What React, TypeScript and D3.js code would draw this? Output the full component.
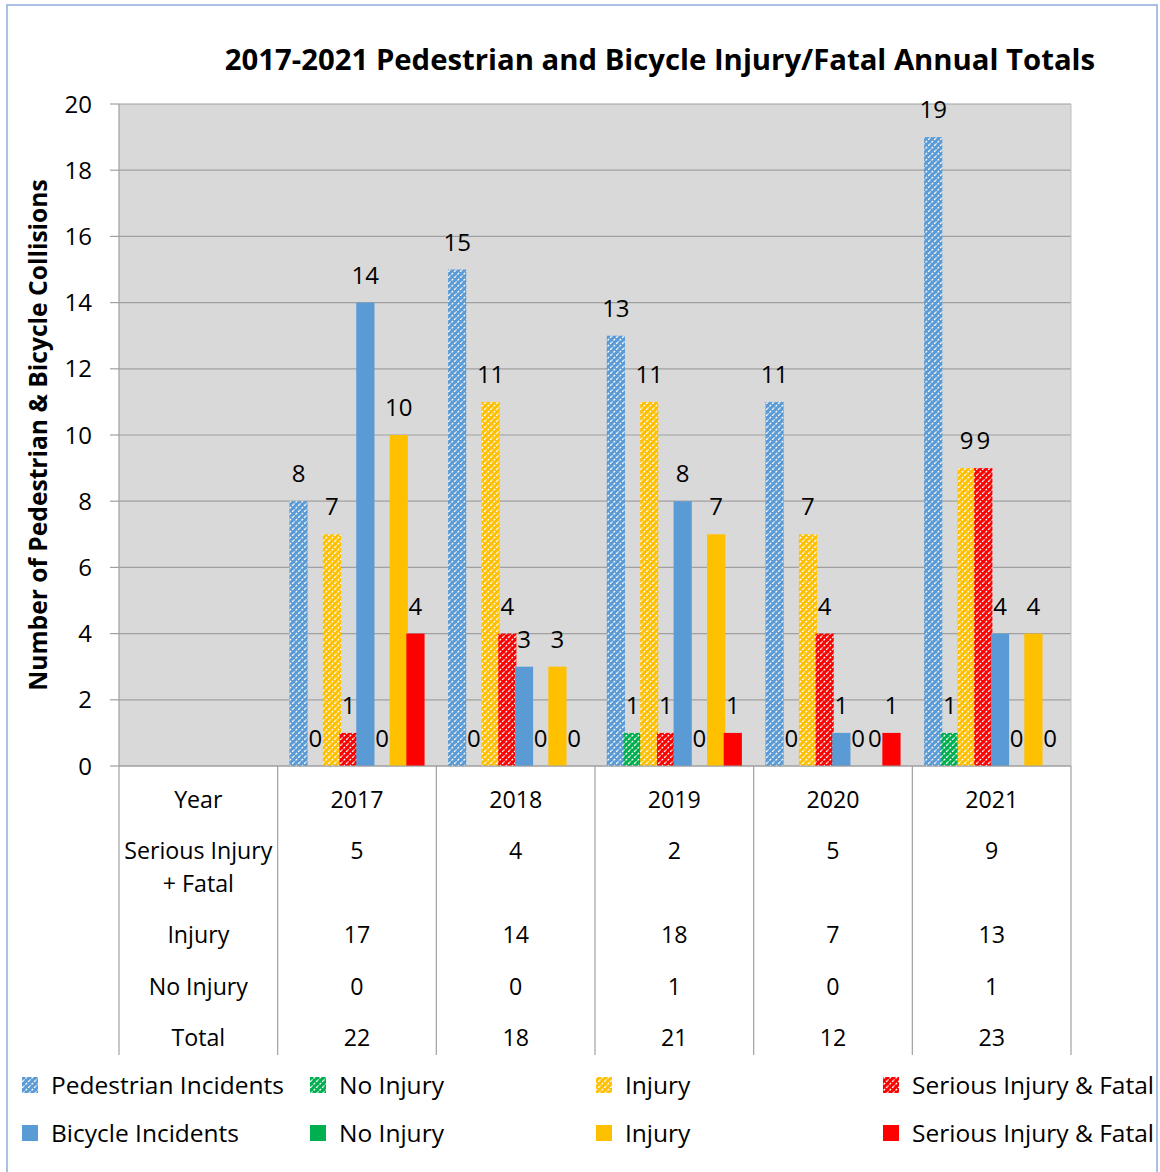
import React from "react";
import * as d3 from "d3";

const years = ["2017", "2018", "2019", "2020", "2021"];
const categories = ["", ...years];
const seriesNames = [
  "Pedestrian Incidents",
  "No Injury",
  "Injury",
  "Serious Injury & Fatal",
  "Bicycle Incidents",
  "No Injury",
  "Injury",
  "Serious Injury & Fatal",
];
const seriesColors = ["#5b9bd5", "#00b050", "#ffc000", "#ff0000", "#5b9bd5", "#00b050", "#ffc000", "#ff0000"];
const seriesHatched = [true, true, true, true, false, false, false, false];

const pedIncidents = [8, 15, 13, 11, 19];
const pedNoInjury = [0, 0, 1, 0, 1];
const pedInjury = [7, 11, 11, 7, 9];
const pedSerious = [1, 4, 1, 4, 9];
const bikeIncidents = [14, 3, 8, 1, 4];
const bikeNoInjury = [0, 0, 0, 0, 0];
const bikeInjury = [10, 3, 7, 0, 4];
const bikeSerious = [4, 0, 1, 1, 0];
const seriesValues = [pedIncidents, pedNoInjury, pedInjury, pedSerious, bikeIncidents, bikeNoInjury, bikeInjury, bikeSerious];

const tableRowLabels = [["Year"], ["Serious Injury", "+ Fatal"], ["Injury"], ["No Injury"], ["Total"]];
const tableSerious = ["5", "4", "2", "5", "9"];
const tableInjury = ["17", "14", "18", "7", "13"];
const tableNoInjury = ["0", "0", "1", "0", "1"];
const tableTotal = ["22", "18", "21", "12", "23"];
const tableRows = [years, tableSerious, tableInjury, tableNoInjury, tableTotal];

const yTicks = [0, 2, 4, 6, 8, 10, 12, 14, 16, 18, 20];

const FONT = "'Open Sans', Lato, sans-serif";

export default function App() {
  const W = 1160, H = 1172;
  const left = 119, right = 1071, top = 104, bottom = 766;
  const x = d3.scaleBand<string>().domain(categories).range([left, right]).paddingInner(0).paddingOuter(0);
  const y = d3.scaleLinear().domain([0, 20]).range([bottom, top]);
  const bw = x.bandwidth();
  const step = bw / 9.5;
  const barW = step + 1.5;
  const rowY = [800, 851, 935, 987, 1038];

  const patId = (i: number) => `hatch${i}`;

  return (
    <svg width={W} height={H} style={{ display: "block", position: "absolute", left: 0, top: 0 }} fontFamily={FONT}>
      <defs>
        {seriesColors.map((c, i) => (
          <pattern key={i} id={patId(i)} width={6} height={6} patternUnits="userSpaceOnUse">
            <rect width={6} height={6} fill={c} />
            <path d="M-1,7 L7,-1" stroke="#fff" strokeWidth={1.3} strokeDasharray="2.2,1.4" />
            <path d="M-4,4 L4,-4 M2,10 L10,2" stroke="#fff" strokeWidth={1.3} strokeDasharray="2.2,1.4" />
          </pattern>
        ))}
      </defs>
      <rect x={0} y={0} width={W} height={H} fill="#fff" />
      <rect x={7} y={5} width={1150} height={1175} fill="none" stroke="#8eaadb" strokeWidth={1.5} />

      <text x={660} y={70} textAnchor="middle" fontSize={29.3} fontWeight="bold" fill="#000">
        2017-2021 Pedestrian and Bicycle Injury/Fatal Annual Totals
      </text>

      <rect x={left} y={top} width={right - left} height={bottom - top} fill="#d9d9d9" />
      {yTicks.map((t) => (
        <g key={t}>
          <line x1={left} x2={right} y1={y(t)} y2={y(t)} stroke="#a0a0a0" strokeWidth={1.2} />
          <line x1={110} x2={left} y1={y(t)} y2={y(t)} stroke="#a0a0a0" strokeWidth={1.2} />
          <text x={92} y={y(t) + 8.5} textAnchor="end" fontSize={24} fill="#000">{t}</text>
        </g>
      ))}
      <line x1={left} x2={left} y1={top} y2={bottom} stroke="#a0a0a0" strokeWidth={1.2} />
      <line x1={right} x2={right} y1={top} y2={bottom} stroke="#bfbfbf" strokeWidth={1} />

      <text transform={`translate(47,435) rotate(-90)`} textAnchor="middle" fontSize={24.6} fontWeight="bold" fill="#000">
        Number of Pedestrian &amp; Bicycle Collisions
      </text>

      {years.map((yr, ci) => {
        const cx = (x(yr) as number) + bw / 2;
        return (
          <g key={yr}>
            {seriesValues.map((vals, si) => {
              const v = vals[ci];
              const bx = cx + (si - 3.5) * step;
              const h = bottom - y(v);
              return (
                <g key={si}>
                  {v > 0 && (
                    <rect
                      x={bx - barW / 2}
                      y={y(v)}
                      width={barW}
                      height={h}
                      fill={seriesHatched[si] ? `url(#${patId(si)})` : seriesColors[si]}
                    />
                  )}
                  <text x={bx} y={y(v) - 19} textAnchor="middle" fontSize={24} fill="#000">{v}</text>
                </g>
              );
            })}
          </g>
        );
      })}
      <line x1={left} x2={right} y1={bottom} y2={bottom} stroke="#a0a0a0" strokeWidth={1.2} />

      {categories.map((c, i) => (
        <line key={"v" + i} x1={x(c) as number} x2={x(c) as number} y1={bottom} y2={1055} stroke="#a0a0a0" strokeWidth={1.2} />
      ))}
      <line x1={right} x2={right} y1={bottom} y2={1055} stroke="#a0a0a0" strokeWidth={1.2} />

      {tableRowLabels.map((lines, ri) => (
        <text key={"rl" + ri} x={(x("") as number) + bw / 2} y={rowY[ri] + 8} textAnchor="middle" fontSize={23.2} fill="#000">
          {lines.map((l, li) => (
            <tspan key={li} x={(x("") as number) + bw / 2} dy={li === 0 ? 0 : 33}>{l}</tspan>
          ))}
        </text>
      ))}
      {tableRows.map((row, ri) =>
        row.map((val, ci) => (
          <text key={`t${ri}-${ci}`} x={(x(years[ci]) as number) + bw / 2} y={rowY[ri] + 8} textAnchor="middle" fontSize={23.2} fill="#000">
            {val}
          </text>
        ))
      )}

      {seriesNames.map((name, i) => {
        const col = i % 4;
        const row = Math.floor(i / 4);
        const lx = [22, 310, 596, 883][col];
        const ly = [1085, 1133][row];
        return (
          <g key={"lg" + i}>
            <rect x={lx} y={ly - 8} width={16} height={16} fill={seriesHatched[i] ? `url(#${patId(i)})` : seriesColors[i]} />
            <text x={lx + 29} y={ly + 8.5} fontSize={24.5} fill="#000">{name}</text>
          </g>
        );
      })}
    </svg>
  );
}
